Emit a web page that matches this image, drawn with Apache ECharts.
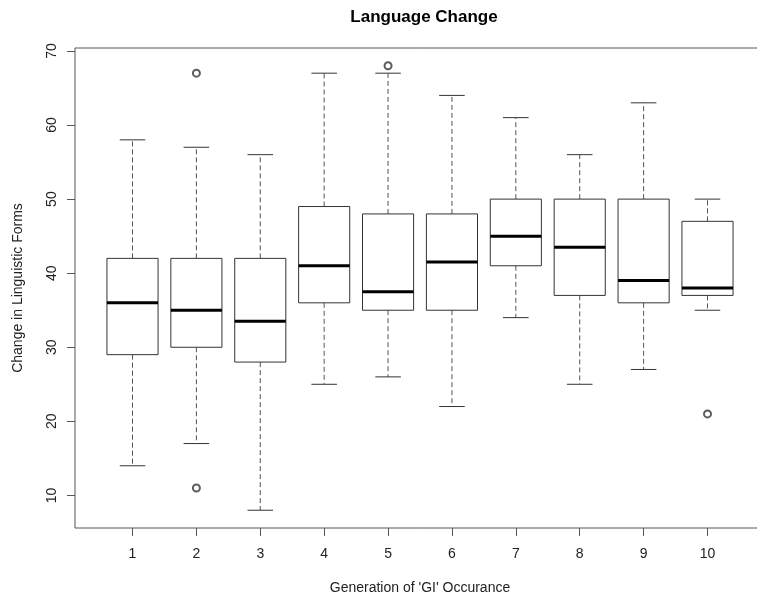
<!DOCTYPE html>
<html>
<head>
<meta charset="utf-8">
<script src="https://cdn.jsdelivr.net/npm/echarts@6/dist/echarts.min.js"></script>
<style>
  html, body { margin: 0; padding: 0; background: #fff; }
  #chart { width: 757px; height: 596px; }
</style>
</head>
<body>
<div id="chart"></div>
<script>
// values
var generations = [1, 2, 3, 4, 5, 6, 7, 8, 9, 10];
var lowWhisker = [14, 17, 8, 25, 26, 22, 34, 25, 27, 35];
var lowerQuartile = [29, 30, 28, 36, 35, 35, 41, 37, 36, 37];
var medians = [36, 35, 33.5, 41, 37.5, 41.5, 45, 43.5, 39, 38];
var upperQuartile = [42, 42, 42, 49, 48, 48, 50, 50, 50, 47];
var highWhisker = [58, 57, 56, 67, 67, 64, 61, 56, 63, 50];
var outlierGen = [2, 2, 5, 10];
var outlierVal = [67, 11, 68, 21];
var yTicks = [10, 20, 30, 40, 50, 60, 70];

var boxData = generations.map(function (g, i) {
    return [g, lowWhisker[i], lowerQuartile[i], medians[i], upperQuartile[i], highWhisker[i]];
});
var outlierData = outlierGen.map(function (g, i) {
    return [g, outlierVal[i]];
});

var font = "'Liberation Sans', Arial, Helvetica, sans-serif";

function renderBox(params, api) {
    var x = api.value(0);
    var lo = api.coord([x, api.value(1)]);
    var q1 = api.coord([x, api.value(2)]);
    var md = api.coord([x, api.value(3)]);
    var q3 = api.coord([x, api.value(4)]);
    var hi = api.coord([x, api.value(5)]);
    var unit = api.size([1, 0])[0];
    var half = unit * 0.4;
    var cap = unit * 0.2;
    var cx = lo[0];
    var solid = { stroke: '#333', lineWidth: 1 };
    var dashed = { stroke: '#555', lineWidth: 1, lineDash: [5, 3] };
    return {
        type: 'group',
        children: [
            { type: 'line', shape: { x1: cx, y1: q3[1], x2: cx, y2: hi[1] }, style: dashed },
            { type: 'line', shape: { x1: cx, y1: q1[1], x2: cx, y2: lo[1] }, style: dashed },
            { type: 'line', shape: { x1: cx - cap, y1: hi[1], x2: cx + cap, y2: hi[1] }, style: solid },
            { type: 'line', shape: { x1: cx - cap, y1: lo[1], x2: cx + cap, y2: lo[1] }, style: solid },
            {
                type: 'rect',
                shape: { x: cx - half, y: q3[1], width: half * 2, height: q1[1] - q3[1] },
                style: { fill: '#fff', stroke: '#333', lineWidth: 1 }
            },
            {
                type: 'line',
                shape: { x1: cx - half, y1: md[1], x2: cx + half, y2: md[1] },
                style: { stroke: '#000', lineWidth: 3 }
            }
        ]
    };
}

var chart = echarts.init(document.getElementById('chart'));
chart.setOption({
    animation: false,
    backgroundColor: '#fff',
    title: {
        text: 'Language Change',
        left: 419,
        textAlign: 'center',
        top: 4,
        textStyle: { fontFamily: font, fontSize: 17, fontWeight: 'bold', color: '#000' }
    },
    grid: {
        left: 75,
        top: 48,
        width: 690,
        height: 480,
        outerBoundsMode: 'none',
        show: true,
        borderColor: '#555',
        borderWidth: 1,
        backgroundColor: 'transparent'
    },
    xAxis: {
        type: 'value',
        min: 0.1,
        max: 10.9,
        name: "Generation of 'GI' Occurance",
        nameLocation: 'middle',
        nameGap: 53,
        nameTextStyle: { fontFamily: font, fontSize: 14, color: '#222' },
        axisLine: { show: false },
        axisTick: { show: true, length: 8, customValues: generations, lineStyle: { color: '#555' } },
        axisLabel: { customValues: generations, margin: 19, fontFamily: font, fontSize: 14, color: '#222' },
        splitLine: { show: false }
    },
    yAxis: {
        type: 'value',
        min: 5.6,
        max: 70.4,
        name: 'Change in Linguistic Forms',
        nameLocation: 'middle',
        nameGap: 50,
        nameRotate: 90,
        nameTextStyle: { fontFamily: font, fontSize: 14, color: '#222' },
        axisLine: { show: false },
        axisTick: { show: true, length: 8, customValues: yTicks, lineStyle: { color: '#555' } },
        axisLabel: { customValues: yTicks, rotate: 90, margin: 16, fontFamily: font, fontSize: 14, color: '#222' },
        splitLine: { show: false }
    },
    series: [
        {
            type: 'custom',
            renderItem: renderBox,
            encode: { x: 0, y: [1, 2, 3, 4, 5] },
            data: boxData,
            z: 2
        },
        {
            type: 'scatter',
            symbol: 'emptyCircle',
            symbolSize: 7,
            itemStyle: { color: '#333', borderColor: '#333', borderWidth: 1 },
            data: outlierData,
            z: 3
        }
    ]
});
</script>
</body>
</html>
